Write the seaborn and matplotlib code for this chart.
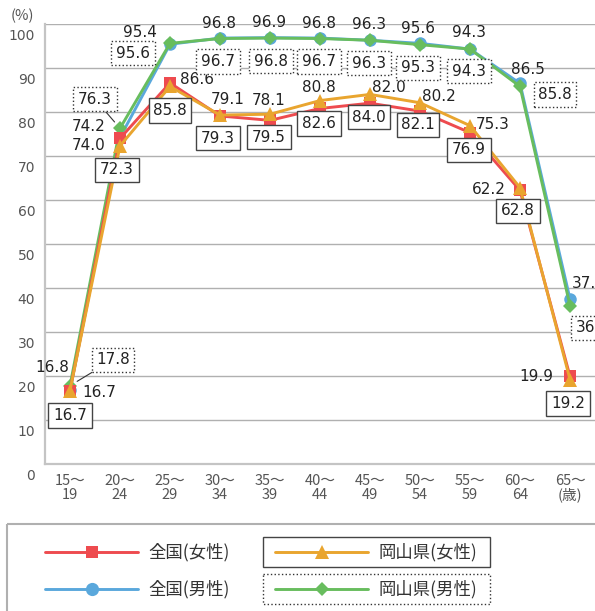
import numpy as np
import pandas as pd
import seaborn as sns
import matplotlib.pyplot as plt
from matplotlib.patches import Rectangle
from matplotlib.lines import Line2D
from matplotlib.transforms import ScaledTranslation

# age groups and labour force participation rates (%)
ages = ["15～\n19", "20～\n24", "25～\n29", "30～\n34", "35～\n39", "40～\n44",
        "45～\n49", "50～\n54", "55～\n59", "60～\n64", "65～\n(歳)"]
zenkoku_f = [16.7, 74.0, 86.6, 79.1, 78.1, 80.8, 82.0, 80.2, 75.3, 62.2, 19.9]
okayama_f = [16.7, 72.3, 85.8, 79.3, 79.5, 82.6, 84.0, 82.1, 76.9, 62.8, 19.2]
zenkoku_m = [16.8, 74.2, 95.4, 96.8, 96.9, 96.8, 96.3, 95.6, 94.3, 86.5, 37.5]
okayama_m = [17.8, 76.3, 95.6, 96.7, 96.8, 96.7, 96.3, 95.3, 94.3, 85.8, 36.0]
names = ["全国(女性)", "全国(男性)", "岡山県(女性)", "岡山県(男性)"]

# label offsets in pixels (dx right, dy up) for each series
off_zf = [(29, -2), (-31, -7), (27, 3), (8, 16), (-1, 20), (-1, 21), (19, 16),
          (19, 15), (23, 8), (-31, 1), (-34, 0)]
off_of = [(0, -25), (-3, -24), (0, -24), (-2, -23), (-1, -23), (-1, -23),
          (-1, -23), (-2, -22), (-1, -24), (-2, -23), (-2, -24)]
off_zm = [(-18, 23), (-31, 11), (-30, 12), (-1, 15), (-1, 15), (-1, 15),
          (-1, 16), (-2, 15), (-1, 17), (8, 14), (19, 16)]
off_om = [(43, 26), (-25, 29), (-37, -10), (-2, -23), (1, -23), (-1, -23),
          (-1, -23), (-2, -23), (-1, -22), (35, -8), (23, -22)]

RED, ORANGE, BLUE, GREEN = "#ee4b4f", "#e9a52f", "#5aa8dc", "#68bd5e"

sns.set_theme(style="white")
plt.rcParams["font.family"] = ["Noto Sans CJK JP", "DejaVu Sans"]

W, H = 595, 611
fig = plt.figure(figsize=(W / 100, H / 100), dpi=100)
ax = fig.add_axes([45 / W, (H - 464) / H, 550 / W, 440 / H])

x = np.arange(len(ages))
df = pd.DataFrame({"x": x, "zf": zenkoku_f, "of": okayama_f,
                   "zm": zenkoku_m, "om": okayama_m})

series = [
    ("zm", BLUE, "o", 9, 3),
    ("om", GREEN, "D", 7.3, 3.1),
    ("zf", RED, "s", 8.6, 3.2),
    ("of", ORANGE, "^", 10, 3.3),
]
for col, c, m, ms, z in series:
    sns.lineplot(data=df, x="x", y=col, ax=ax, color=c, lw=2.1, marker=m,
                 markersize=ms, markeredgewidth=0, markeredgecolor=c, zorder=z)

# data labels
lab_kw = dict(textcoords="offset pixels", ha="center", va="center",
              fontsize=11, family="DejaVu Sans", color="#222222", zorder=6,
              annotation_clip=False)
for i in x:
    ax.annotate(f"{zenkoku_f[i]:.1f}", xy=(i, zenkoku_f[i]), xytext=off_zf[i], **lab_kw)
    ax.annotate(f"{zenkoku_m[i]:.1f}", xy=(i, zenkoku_m[i]), xytext=off_zm[i], **lab_kw)
    ax.annotate(f"{okayama_f[i]:.1f}", xy=(i, okayama_f[i]), xytext=off_of[i],
                bbox=dict(boxstyle="square,pad=0.3", fc="white", ec="#444444", lw=1.0),
                **lab_kw)
    arrow = None
    if i in (0, 1):
        arrow = dict(arrowstyle="-", color="#333333", lw=0.8, shrinkA=0, shrinkB=6)
    ax.annotate(f"{okayama_m[i]:.1f}", xy=(i, okayama_m[i]), xytext=off_om[i],
                bbox=dict(boxstyle="square,pad=0.3", fc="white", ec="#333333",
                          lw=1.0, ls=":"),
                arrowprops=arrow, **lab_kw)

ax.set_xlim(-0.5, 10.5)
ax.set_ylim(0, 100)
ax.set_yticks(range(0, 101, 10))
ax.set_xticks(x)
ax.set_xticklabels(ages, fontsize=10.5, color="#555555", linespacing=1.0)
ax.tick_params(axis="x", length=0, pad=7)
ax.tick_params(axis="y", length=0, pad=7, labelsize=10, labelcolor="#555555")
for lab in ax.get_yticklabels():
    lab.set_family("DejaVu Sans")
    lab.set_transform(lab.get_transform() + ScaledTranslation(0, -0.11, fig.dpi_scale_trans))
ax.set_xlabel("")
ax.set_ylabel("")
ax.grid(axis="y", color="#b0b0b0", lw=1.0)
ax.grid(axis="x", visible=False)
for s in ("top", "right"):
    ax.spines[s].set_visible(False)
for s in ("left", "bottom"):
    ax.spines[s].set_color("#c4c4c4")
    ax.spines[s].set_linewidth(1.6)

# overlay in pixel coordinates for unit label and legend
ov = fig.add_axes([0, 0, 1, 1])
ov.set_xlim(0, W)
ov.set_ylim(H, 0)
ov.axis("off")
ov.text(22, 16, "(%)", ha="center", va="center", fontsize=10.5, color="#555555")

ov.add_patch(Rectangle((7, 524), 620, 120, fill=False, ec="#b0b0b0", lw=1.5))
ov.add_patch(Rectangle((263, 537), 227, 30, fill=False, ec="#444444", lw=1.0))
ov.add_patch(Rectangle((263, 574), 227, 30, fill=False, ec="#333333", lw=1.0, ls=":"))
legend_items = [
    (names[0], RED, "s", 8.6, 45, 552),
    (names[1], BLUE, "o", 9.5, 45, 589),
    (names[2], ORANGE, "^", 10, 275, 552),
    (names[3], GREEN, "D", 7.3, 275, 589),
]
for name, c, m, ms, lx, ly in legend_items:
    ov.add_line(Line2D([lx, lx + 93], [ly, ly], color=c, lw=2.1))
    ov.add_line(Line2D([lx + 47], [ly], color=c, marker=m, markersize=ms,
                       markeredgewidth=0, lw=0))
    ov.text(lx + 103, ly, name, ha="left", va="center", fontsize=12.5, color="#333333")

fig.savefig("out.png", dpi=100)
